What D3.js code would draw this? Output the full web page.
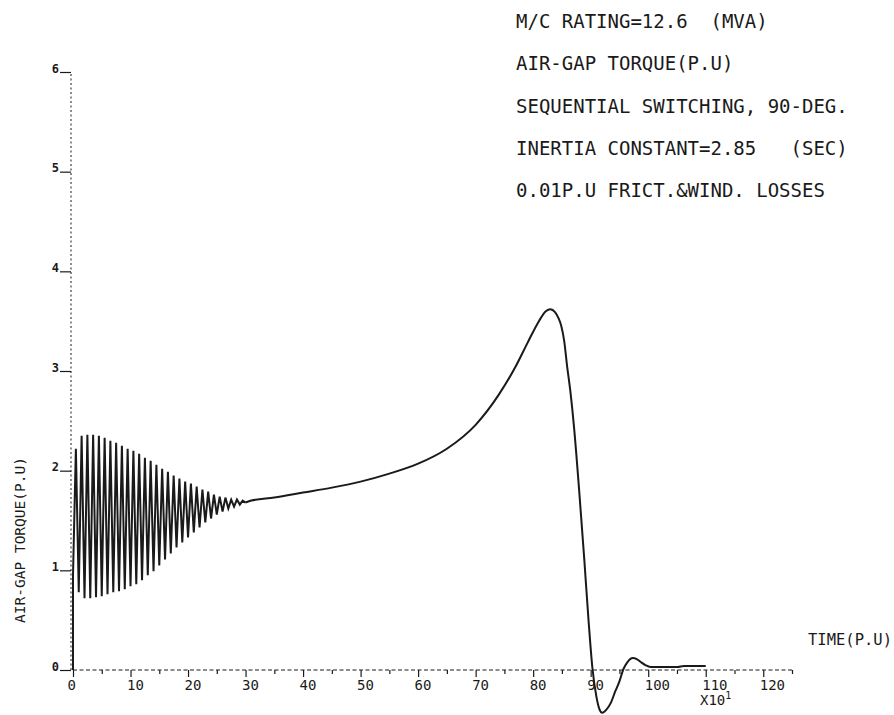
<!DOCTYPE html>
<html><head><meta charset="utf-8">
<script src="https://cdn.jsdelivr.net/npm/d3@7"></script>
<style>
body{margin:0;background:#fff}
svg text{font-family:"DejaVu Sans Mono",monospace;white-space:pre;fill:#1a1a1a}
</style>
</head><body>
<svg id="chart" width="894" height="715"></svg>
<script>
// ---- data ----
// oscillating part (successive peaks / troughs of the torque), time in P.U (x10^1 on the axis)
const bandTime = [0,0,0.5,1,1.5,2,2.5,3,3.5,4,4.5,5,5.5,6,6.5,7,7.5,8,8.5,9,9.5,10,10.5,11,11.5,12,12.5,13,13.5,14,14.5,15,15.5,16,16.5,17,17.5,18,18.5,19,19.5,20,20.5,21,21.5,22,22.5,23,23.5,24,24.5,25,25.5,26,26.5,27,27.5,28,28.5,29,29.5,30];
const bandTorque = [0,0.95,2.22,0.78,2.35,0.72,2.36,0.72,2.36,0.73,2.35,0.74,2.33,0.76,2.30,0.78,2.28,0.79,2.25,0.81,2.22,0.84,2.20,0.86,2.17,0.90,2.13,0.95,2.10,0.99,2.06,1.05,2.02,1.11,1.99,1.17,1.95,1.23,1.92,1.28,1.89,1.33,1.87,1.38,1.84,1.43,1.81,1.48,1.79,1.52,1.76,1.56,1.74,1.59,1.73,1.62,1.71,1.64,1.71,1.66,1.70,1.68];
// smooth part after the oscillations die out
const curveTime = [30,31,35,40,45,50,55,60,65,70,74,77,79,81,82.2,83,83.8,84.4,84.9,85.4,85.9,86.5,87.1,88,88.9,89.6,90.3,91,91.5,92,92.7,93.5,94.3,94.9,95.7,96.4,97.3,98,98.7,99.5,100.4,103,105.1,106.2,108,110];
const curveTorque = [1.68,1.70,1.73,1.78,1.83,1.89,1.97,2.07,2.22,2.46,2.76,3.05,3.28,3.50,3.60,3.62,3.59,3.53,3.45,3.30,3.05,2.78,2.44,1.80,1.10,0.52,0.02,-0.27,-0.39,-0.43,-0.40,-0.33,-0.21,-0.13,0.01,0.08,0.12,0.11,0.08,0.05,0.03,0.03,0.03,0.04,0.04,0.04];

const xTickValues = [0,10,20,30,40,50,60,70,80,90,100,110,120];
const xMinorTicks = [5,15,25,35,45,55,65,75,85,95,105,115,125];
const yTickValues = [0,1,2,3,4,5,6];
const noteLines = [
  "M/C RATING=12.6  (MVA)",
  "AIR-GAP TORQUE(P.U)",
  "SEQUENTIAL SWITCHING, 90-DEG.",
  "INERTIA CONSTANT=2.85   (SEC)",
  "0.01P.U FRICT.&WIND. LOSSES"
];
const yTitle = "AIR-GAP TORQUE(P.U)";
const xTitle = "TIME(P.U)";

// ---- drawing ----
const svg = d3.select("#chart");
const x = d3.scaleLinear().domain([0,125]).range([73,792]);
const y = d3.scaleLinear().domain([0,6]).range([670,72]);
const ink = "#1a1a1a";

// axis lines (dashed like the plotter output)
svg.append("line").attr("x1",x(0)).attr("x2",x(125)).attr("y1",y(0)).attr("y2",y(0))
  .attr("stroke",ink).attr("stroke-width",1.2).attr("stroke-dasharray","4,2.5");
svg.append("line").attr("x1",71).attr("x2",71).attr("y1",y(0)).attr("y2",y(6))
  .attr("stroke",ink).attr("stroke-width",1).attr("stroke-dasharray","2,2.5");

// x axis major ticks + labels
const gx = svg.append("g").attr("transform",`translate(0,${y(0)})`)
  .call(d3.axisBottom(x).tickValues(xTickValues).tickSize(7).tickFormat(d3.format("d")));
gx.attr("font-size",null).attr("font-family",null);
gx.select(".domain").remove();
gx.selectAll(".tick line").attr("stroke",ink).attr("stroke-width",1.2);
gx.selectAll(".tick text").style("font-size","14px").attr("text-anchor","start")
  .attr("x",d=> d===0 ? -6 : -4).attr("fill",ink);
// x axis minor ticks
const gxm = svg.append("g").attr("transform",`translate(0,${y(0)})`)
  .call(d3.axisBottom(x).tickValues(xMinorTicks).tickSize(4).tickFormat(""));
gxm.select(".domain").remove();
gxm.selectAll(".tick line").attr("stroke",ink).attr("stroke-width",1.2);

// y axis ticks + labels
const gy = svg.append("g").attr("transform","translate(71,0)")
  .call(d3.axisLeft(y).tickValues(yTickValues).tickSize(11).tickFormat(d3.format("d")));
gy.attr("font-size",null).attr("font-family",null);
gy.select(".domain").remove();
gy.selectAll(".tick line").attr("stroke",ink).attr("stroke-width",1.2);
gy.selectAll(".tick text").style("font-size","12px").style("font-weight","bold")
  .attr("dy","0").attr("x",-12).attr("fill",ink);

// curves
const bandPts = bandTime.map((t,i)=>[t,bandTorque[i]]);
const curvePts = curveTime.map((t,i)=>[t,curveTorque[i]]);
svg.append("path").datum(bandPts)
  .attr("d",d3.line().x(d=>x(d[0])).y(d=>y(d[1])).curve(d3.curveLinear))
  .attr("fill","none").attr("stroke",ink).attr("stroke-width",2.0);
svg.append("path").datum(curvePts)
  .attr("d",d3.line().x(d=>x(d[0])).y(d=>y(d[1])).curve(d3.curveMonotoneX))
  .attr("fill","none").attr("stroke",ink).attr("stroke-width",2);

// annotation block
svg.append("g").selectAll("text").data(noteLines).join("text")
  .attr("x",516).attr("y",(d,i)=>28+i*42.3)
  .attr("font-size",19).text(d=>d);

// axis titles
svg.append("text").attr("transform","translate(25,540) rotate(-90)")
  .attr("text-anchor","middle").attr("font-size",14.5).text(yTitle);
svg.append("text").attr("x",808).attr("y",645).attr("font-size",15.5).text(xTitle);
const xm = svg.append("text").attr("x",700).attr("y",705).attr("font-size",14).text("X10");
xm.append("tspan").attr("dy",-6).attr("font-size",10).text("1");
</script>
</body></html>
